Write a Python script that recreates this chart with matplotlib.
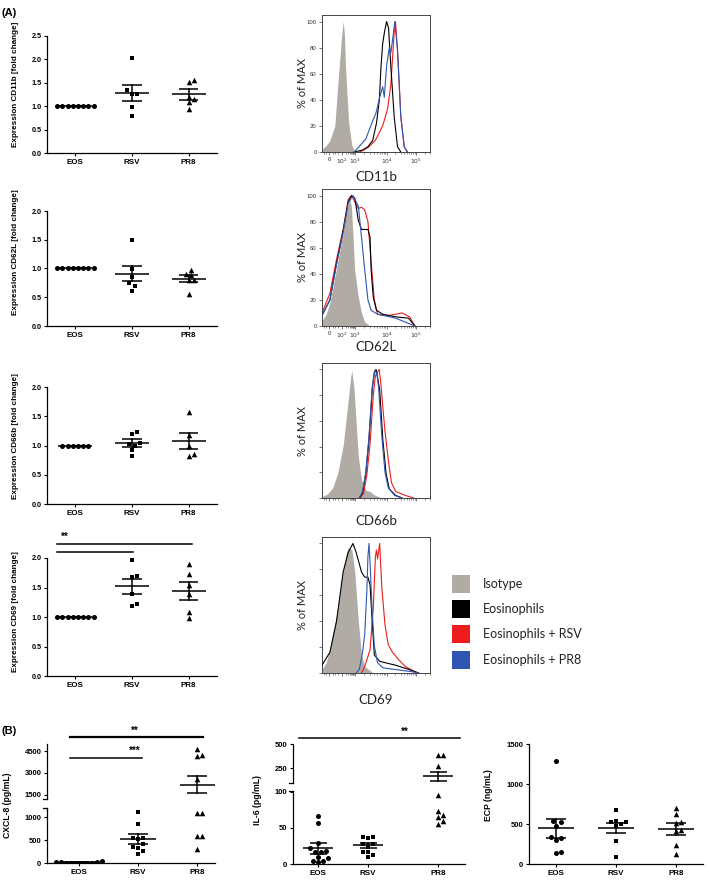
import numpy as np
import matplotlib
matplotlib.use('Agg')
import matplotlib.pyplot as plt
from matplotlib.patches import Rectangle

plt.rcParams['font.family'] = ['Liberation Sans', 'DejaVu Sans']

# ------------------------------------------------------------------ data
groups = ['EOS', 'RSV', 'PR8']

cd11b_eos = [1.0, 1.0, 1.0, 1.0, 1.0, 1.0, 1.0, 1.0]
cd11b_rsv = [2.04, 1.34, 1.25, 1.27, 0.98, 0.80]
cd11b_pr8 = [1.52, 1.55, 1.16, 1.20, 1.09, 0.93]
cd11b_mean = [1.0, 1.28, 1.25]
cd11b_sem = [0.0, 0.17, 0.11]

cd62l_eos = [1.0, 1.0, 1.0, 1.0, 1.0, 1.0, 1.0, 1.0]
cd62l_rsv = [1.50, 0.99, 0.86, 0.74, 0.69, 0.61]
cd62l_pr8 = [0.90, 0.97, 0.88, 0.80, 0.80, 0.56]
cd62l_mean = [1.0, 0.91, 0.82]
cd62l_sem = [0.0, 0.13, 0.06]

cd66b_eos = [1.0, 1.0, 1.0, 1.0, 1.0, 1.0]
cd66b_rsv = [1.19, 1.23, 1.05, 1.02, 1.00, 0.92, 0.82]
cd66b_pr8 = [1.57, 1.18, 0.99, 0.82, 0.85]
cd66b_mean = [1.0, 1.04, 1.08]
cd66b_sem = [0.0, 0.065, 0.14]

cd69_eos = [1.0, 1.0, 1.0, 1.0, 1.0, 1.0, 1.0, 1.0]
cd69_rsv = [1.96, 1.67, 1.70, 1.39, 1.18, 1.22]
cd69_pr8 = [1.90, 1.73, 1.55, 1.39, 1.09, 0.99]
cd69_mean = [1.0, 1.52, 1.44]
cd69_sem = [0.0, 0.13, 0.15]

cxcl8_eos = [50, 25, 15, 5, 2, 0, 0, 3, 10, 25]
cxcl8_rsv = [1115, 856, 540, 530, 545, 410, 360, 324, 266, 201]
cxcl8_pr8 = [4660, 4140, 4270, 2600, 1090, 1090, 590, 590, 310]
cxcl8_mean = [14, 518, 2200]
cxcl8_sem = [5, 108, 590]

il6_eos = [66, 57, 29, 22, 17, 16, 18, 10, 8, 4, 3, 4]
il6_rsv = [38, 37, 36, 28, 27, 23, 17, 16, 12, 9]
il6_pr8 = [389, 389, 274, 95, 68, 73, 65, 55, 59]
il6_mean = [22, 26, 168]
il6_sem = [7.5, 3.5, 48]

ecp_eos = [1285, 540, 520, 480, 340, 330, 300, 140, 145]
ecp_rsv = [680, 530, 520, 535, 500, 470, 290, 85]
ecp_pr8 = [700, 620, 520, 510, 430, 410, 240, 120]
ecp_mean = [445, 450, 440]
ecp_sem = [122, 62, 72]

# flow cytometry histograms (x = position along logicle axis, 0..1; y = % of max)
cd11b_iso_x = [0.0, 0.04, 0.074, 0.12, 0.15, 0.185, 0.198, 0.21, 0.22, 0.25, 0.28, 0.30, 0.32]
cd11b_iso_y = [2, 5, 9, 20, 54, 90, 100, 90, 65, 22, 5, 1, 0]
cd11b_blk_x = [0.30, 0.38, 0.43, 0.475, 0.51, 0.537, 0.552, 0.568, 0.585, 0.605, 0.623, 0.645, 0.676, 0.707, 0.738]
cd11b_blk_y = [0, 1.5, 4, 9, 22, 40, 65, 83, 92, 100, 95, 65, 27, 4, 0]
cd11b_red_x = [0.35, 0.38, 0.44, 0.50, 0.568, 0.614, 0.645, 0.676, 0.688, 0.707, 0.738, 0.77, 0.80]
cd11b_red_y = [0, 1, 4, 9, 20, 33, 52, 92, 100, 78, 27, 4, 0]
cd11b_blu_x = [0.30, 0.335, 0.41, 0.475, 0.506, 0.537, 0.568, 0.583, 0.605, 0.63, 0.645, 0.67, 0.682, 0.707, 0.738, 0.77, 0.80]
cd11b_blu_y = [0, 3, 10, 24, 30, 41, 50, 42, 66, 80, 76, 92, 100, 78, 27, 4, 0]

cd62l_iso_x = [0.0, 0.04, 0.074, 0.136, 0.198, 0.23, 0.26, 0.275, 0.29, 0.306, 0.34, 0.37, 0.40, 0.45]
cd62l_iso_y = [4, 9, 18, 44, 72, 88, 97, 92, 70, 43, 22, 10, 3, 0]
cd62l_blk_x = [0.0, 0.074, 0.136, 0.198, 0.245, 0.276, 0.307, 0.34, 0.37, 0.40, 0.43, 0.45, 0.46, 0.48, 0.51, 0.57, 0.69, 0.81, 0.87]
cd62l_blk_y = [8, 20, 48, 73, 95, 100, 98, 81, 74, 74, 74, 68, 43, 22, 12, 9, 7, 6, 0]
cd62l_red_x = [0.0, 0.074, 0.136, 0.20, 0.245, 0.276, 0.307, 0.34, 0.37, 0.40, 0.43, 0.46, 0.49, 0.52, 0.62, 0.75, 0.82, 0.87]
cd62l_red_y = [10, 25, 51, 75, 97, 100, 95, 90, 91, 89, 80, 49, 20, 9, 8, 10, 7, 0]
cd62l_blu_x = [0.0, 0.074, 0.136, 0.198, 0.245, 0.29, 0.34, 0.37, 0.40, 0.43, 0.46, 0.52, 0.69, 0.87]
cd62l_blu_y = [8, 20, 47, 72, 94, 100, 92, 68, 43, 20, 12, 9, 6, 0]

cd66b_iso_x = [0.0, 0.05, 0.10, 0.15, 0.20, 0.24, 0.27, 0.28, 0.30, 0.32, 0.34, 0.37, 0.41, 0.45, 0.50, 0.56]
cd66b_iso_y = [1, 3, 8, 20, 42, 72, 95, 99, 85, 58, 32, 14, 6, 5, 2, 0]
cd66b_blk_x = [0.35, 0.38, 0.41, 0.44, 0.47, 0.49, 0.506, 0.52, 0.54, 0.57, 0.60, 0.63, 0.69, 0.75]
cd66b_blk_y = [0, 4, 19, 45, 84, 98, 100, 94, 84, 45, 19, 7, 2, 0]
cd66b_red_x = [0.36, 0.39, 0.42, 0.45, 0.48, 0.50, 0.52, 0.535, 0.55, 0.57, 0.59, 0.62, 0.65, 0.69, 0.78, 0.86]
cd66b_red_y = [0, 4, 18, 42, 80, 95, 98, 100, 90, 70, 52, 30, 12, 5, 2, 0]
cd66b_blu_x = [0.35, 0.38, 0.41, 0.44, 0.47, 0.49, 0.50, 0.515, 0.53, 0.56, 0.59, 0.62, 0.68, 0.75]
cd66b_blu_y = [0, 5, 20, 48, 86, 97, 99, 96, 86, 48, 20, 8, 2, 0]

cd69_iso_x = [0.0, 0.04, 0.074, 0.136, 0.198, 0.23, 0.244, 0.28, 0.307, 0.34, 0.37, 0.40, 0.45, 0.48]
cd69_iso_y = [3, 8, 19, 45, 80, 93, 97, 95, 78, 40, 14, 5, 2, 0]
cd69_blk_x = [0.0, 0.074, 0.136, 0.198, 0.245, 0.29, 0.32, 0.37, 0.40, 0.43, 0.45, 0.47, 0.49, 0.54, 0.69, 0.84, 0.90]
cd69_blk_y = [6, 16, 40, 78, 93, 100, 93, 78, 74, 74, 68, 40, 14, 9, 6, 2, 0]
cd69_red_x = [0.37, 0.40, 0.45, 0.48, 0.50, 0.51, 0.52, 0.54, 0.56, 0.59, 0.62, 0.66, 0.72, 0.78, 0.87, 0.91]
cd69_red_y = [0, 5, 18, 50, 90, 95, 88, 100, 66, 37, 22, 16, 10, 5, 1, 0]
cd69_blu_x = [0.32, 0.35, 0.38, 0.40, 0.42, 0.43, 0.44, 0.45, 0.47, 0.49, 0.52, 0.57, 0.84, 0.90]
cd69_blu_y = [0, 3, 16, 30, 63, 90, 100, 85, 47, 21, 8, 4, 1, 0]

legend_labels = ['Isotype', 'Eosinophils', 'Eosinophils + RSV', 'Eosinophils + PR8']

# ------------------------------------------------------------------ helpers
W, H = 709, 880
fig = plt.figure(figsize=(W / 100, H / 100), dpi=100)

GRAY = '#b0aca5'
RED = '#ee1c1c'
BLUE = '#2f56b0'


def pax(l, t, r, b):
    return fig.add_axes([l / W, 1 - b / H, (r - l) / W, (b - t) / H])


def ftext(x, y, s, **kw):
    return fig.text(x / W, 1 - y / H, s, **kw)


def swarm(ypx, d):
    order = np.argsort(ypx)
    placed = []
    offs = np.zeros(len(ypx))
    cands = [0.0] + [s * k * d / 2 for k in range(1, 40) for s in (1, -1)]
    for i in order:
        y = ypx[i]
        for c in cands:
            if all((c - px) ** 2 + (y - py) ** 2 >= (d * 0.97) ** 2 for px, py in placed):
                offs[i] = c
                placed.append((c, y))
                break
    # a single flat row is centred about the group position
    if len(offs) and np.ptp(ypx) < d:
        offs = offs - (offs.max() + offs.min()) / 2
    return offs


MARK = ['o', 's', '^']
MSIZE = [13, 12, 16]


def style_dot_axes(ax, positions, ticks, fmt, show_bottom=True, fs=5.2):
    for s in ['top', 'right']:
        ax.spines[s].set_visible(False)
    ax.spines['left'].set_linewidth(0.9)
    ax.spines['bottom'].set_linewidth(0.9)
    ax.set_yticks(ticks)
    ax.set_yticklabels([fmt(t) for t in ticks], fontsize=fs, fontweight='bold')
    ax.tick_params(axis='y', length=2.5, width=0.8, pad=1.5)
    if show_bottom:
        ax.set_xticks(positions)
        ax.set_xticklabels(groups, fontsize=5.8, fontweight='bold')
        ax.tick_params(axis='x', length=2.5, width=0.8, pad=1.5)
    else:
        ax.spines['bottom'].set_visible(False)
        ax.set_xticks([])


def draw_groups(axes, ypix_fn, positions, datasets, means, sems, d=5.2):
    ax0 = axes[0]
    xpx = ax0.transData.transform((1, 0))[0] - ax0.transData.transform((0, 0))[0]
    for i, vals in enumerate(datasets):
        ypx = [ypix_fn(v) for v in vals]
        offs = swarm(ypx, d)
        xs = np.array([positions[i] + o / xpx for o in offs])
        vv = np.array(vals, dtype=float)
        m, s = means[i], sems[i]
        p = positions[i]
        for ax in axes:
            lo, hi = ax.get_ylim()
            mask = (vv >= lo) & (vv <= hi)
            ax.scatter(xs[mask], vv[mask], marker=MARK[i], s=MSIZE[i], c='black', linewidths=0, zorder=3)
            ax.plot([p - 0.3, p + 0.3], [m, m], color='black', lw=1.1, zorder=4, solid_capstyle='butt')
            ax.plot([p - 0.17, p + 0.17], [m + s, m + s], color='black', lw=1.1, zorder=4, solid_capstyle='butt')
            ax.plot([p - 0.17, p + 0.17], [m - s, m - s], color='black', lw=1.1, zorder=4, solid_capstyle='butt')
            ax.plot([p, p], [m - s, m + s], color='black', lw=1.1, zorder=4)


def one_fmt(t):
    return f'{t:.1f}'


def int_fmt(t):
    return f'{int(t)}'


# ------------------------------------------------------------------ panel A scatter
scatter_specs = [
    ((47, 36, 217, 153), 2.5, [0, 0.5, 1.0, 1.5, 2.0, 2.5], (cd11b_eos, cd11b_rsv, cd11b_pr8), cd11b_mean, cd11b_sem,
     'Expression CD11b [fold change]', 84),
    ((47, 211, 217, 326), 2.0, [0, 0.5, 1.0, 1.5, 2.0], (cd62l_eos, cd62l_rsv, cd62l_pr8), cd62l_mean, cd62l_sem,
     'Expression CD62L [fold change]', 252),
    ((47, 387, 217, 504), 2.0, [0, 0.5, 1.0, 1.5, 2.0], (cd66b_eos, cd66b_rsv, cd66b_pr8), cd66b_mean, cd66b_sem,
     'Expression CD66b [fold change]', 436),
    ((47, 558, 217, 676), 2.0, [0, 0.5, 1.0, 1.5, 2.0], (cd69_eos, cd69_rsv, cd69_pr8), cd69_mean, cd69_sem,
     'Expression CD69 [fold change]', 612),
]
posA = [0, 1, 2]
axA = []
for box, ytop, ticks, data, means, sems, lab, ly in scatter_specs:
    ax = pax(*box)
    ax.set_xlim(-0.5, 2.5)
    ax.set_ylim(0, ytop)
    style_dot_axes(ax, posA, ticks, one_fmt)
    draw_groups([ax], lambda v, a=ax: a.transData.transform((0, v))[1], posA, data, means, sems)
    ftext(16, ly, lab, rotation=90, ha='center', va='center', fontsize=5.9, fontweight='bold')
    axA.append(ax)

# significance for CD69
ax = axA[3]
ax.plot([-0.32, 2.06], [2.24, 2.24], color='black', lw=1.1, clip_on=False)
ax.plot([-0.32, 1.02], [2.10, 2.10], color='black', lw=1.1, clip_on=False)
ax.text(-0.18, 2.36, '**', fontsize=7, fontweight='bold', ha='center', va='center')

ftext(2, 13, '(A)', fontsize=8, fontweight='bold', ha='left', va='center')
ftext(2, 731, '(B)', fontsize=8, fontweight='bold', ha='left', va='center')

# ------------------------------------------------------------------ histograms
MAJ = [0.065, 0.185, 0.306, 0.605, 0.88]
MAJ_LAB = ['0', '$10^2$', '$10^3$', '$10^4$', '$10^5$']
minor = [0.015, 0.035, 0.10, 0.125, 0.15]
for a, b in [(0.185, 0.306), (0.306, 0.605), (0.605, 0.88)]:
    minor += [a + (b - a) * np.log10(k) for k in range(2, 10)]
minor += [0.88 + 0.275 * np.log10(k) for k in range(2, 4)]

hist_specs = [
    ((322, 15, 430, 152), 'CD11b', 177, True,
     (cd11b_iso_x, cd11b_iso_y), (cd11b_blk_x, cd11b_blk_y), (cd11b_red_x, cd11b_red_y), (cd11b_blu_x, cd11b_blu_y)),
    ((322, 189, 430, 326), 'CD62L', 347, True,
     (cd62l_iso_x, cd62l_iso_y), (cd62l_blk_x, cd62l_blk_y), (cd62l_red_x, cd62l_red_y), (cd62l_blu_x, cd62l_blu_y)),
    ((322, 363, 430, 498), 'CD66b', 521, False,
     (cd66b_iso_x, cd66b_iso_y), (cd66b_blk_x, cd66b_blk_y), (cd66b_red_x, cd66b_red_y), (cd66b_blu_x, cd66b_blu_y)),
    ((322, 537, 430, 673), 'CD69', 700, False,
     (cd69_iso_x, cd69_iso_y), (cd69_blk_x, cd69_blk_y), (cd69_red_x, cd69_red_y), (cd69_blu_x, cd69_blu_y)),
]
for box, lab, ly, labels, iso, blk, red, blu in hist_specs:
    ax = pax(*box)
    ax.set_xlim(0, 1)
    ax.set_ylim(0, 105)
    ax.fill_between(iso[0], iso[1], 0, color=GRAY, lw=0, zorder=1)
    ax.plot(blk[0], blk[1], color='black', lw=0.8, zorder=3)
    ax.plot(red[0], red[1], color=RED, lw=0.8, zorder=2)
    ax.plot(blu[0], blu[1], color=BLUE, lw=0.8, zorder=4)
    for s in ax.spines.values():
        s.set_linewidth(0.7)
        s.set_color('#444444')
    ax.set_xticks(MAJ)
    ax.set_xticks(minor, minor=True)
    ax.set_yticks([0, 20, 40, 60, 80, 100])
    ax.tick_params(axis='both', which='major', length=2.2, width=0.5, colors='#444444', pad=1.5, labelsize=4.3)
    ax.tick_params(axis='both', which='minor', length=1.2, width=0.4, colors='#444444')
    if labels:
        ax.set_xticklabels(MAJ_LAB, fontsize=4.3, color='#333333')
        ax.set_yticklabels(['0', '20', '40', '60', '80', '100'], fontsize=4.3, color='#333333')
    else:
        ax.set_xticklabels([])
        ax.set_yticklabels([])
    cy = (box[1] + box[3]) / 2
    ftext(303, cy, '% of MAX', rotation=90, ha='center', va='center', fontsize=8, family=['Lato', 'DejaVu Sans'],
          color='#222222')
    ftext(376, ly, lab, ha='center', va='center', fontsize=9.5, family=['Lato', 'DejaVu Sans'], color='#222222')

# legend
leg_colors = [GRAY, 'black', RED, BLUE]
for i, (lab, col) in enumerate(zip(legend_labels, leg_colors)):
    yc = [584, 609, 634, 660][i]
    fig.add_artist(Rectangle((452 / W, 1 - (yc + 9) / H), 18 / W, 18 / H, transform=fig.transFigure,
                             facecolor=col, edgecolor='none'))
    ftext(483, yc, lab, ha='left', va='center', fontsize=9, family=['Lato', 'DejaVu Sans'], color='#222222')

# ------------------------------------------------------------------ panel B
# CXCL-8 (broken axis)
posB1 = [0, 1, 2]
cx_lo = pax(47, 808, 215, 863)
cx_hi = pax(47, 744, 215, 799)
for a in (cx_lo, cx_hi):
    a.set_xlim(-0.54, 2.3)
cx_lo.set_ylim(0, 1200)
cx_hi.set_ylim(1200, 5000)
style_dot_axes(cx_lo, posB1, [0, 500, 1000], int_fmt, fs=5.5)
style_dot_axes(cx_hi, posB1, [1500, 3000, 4500], int_fmt, show_bottom=False, fs=5.5)


def cx_pix(v):
    a = cx_hi if v > 1200 else cx_lo
    return a.transData.transform((0, v))[1]


draw_groups([cx_lo, cx_hi], cx_pix, posB1, (cxcl8_eos, cxcl8_rsv, cxcl8_pr8), cxcl8_mean, cxcl8_sem)
for a, yy in ((cx_lo, 1), (cx_hi, 0)):
    a.plot([-4 / 168, 0], [yy, yy], transform=a.transAxes, color='black', lw=0.9, clip_on=False)
cx_hi.plot([-0.15, 2.1], [5500, 5500], color='black', lw=1.6, clip_on=False)
cx_hi.text(0.95, 5880, '**', fontsize=7, fontweight='bold', ha='center', va='center')
cx_hi.plot([-0.15, 1.07], [4020, 4020], color='black', lw=1.1, clip_on=False)
cx_hi.text(0.95, 4550, '***', fontsize=7, fontweight='bold', ha='center', va='center')
ftext(8, 805, 'CXCL-8 (pg/mL)', rotation=90, ha='center', va='center', fontsize=6.2, fontweight='bold')

# IL-6 (broken axis)
posB2 = [0, 1, 2.4]
il_lo = pax(293, 791, 465, 864)
il_hi = pax(293, 744, 465, 783)
for a in (il_lo, il_hi):
    a.set_xlim(-0.5, 2.94)
il_lo.set_ylim(0, 101)
il_hi.set_ylim(100, 500)
style_dot_axes(il_lo, posB2, [0, 50, 100], int_fmt, fs=5.5)
style_dot_axes(il_hi, posB2, [250, 500], int_fmt, show_bottom=False, fs=5.5)


def il_pix(v):
    a = il_hi if v > 101 else il_lo
    return a.transData.transform((0, v))[1]


draw_groups([il_lo, il_hi], il_pix, posB2, (il6_eos, il6_rsv, il6_pr8), il6_mean, il6_sem)
for a, yy in ((il_lo, 1), (il_hi, 0)):
    a.plot([-4 / 172, 0], [yy, yy], transform=a.transAxes, color='black', lw=0.9, clip_on=False)
il_hi.plot([-0.38, 2.84], [565, 565], color='black', lw=1.1, clip_on=False)
il_hi.text(1.74, 620, '**', fontsize=7, fontweight='bold', ha='center', va='center')
ftext(257, 800, 'IL-6 (pg/mL)', rotation=90, ha='center', va='center', fontsize=6.2, fontweight='bold')

# ECP
posB3 = [0, 1, 2]
ec = pax(529, 744, 703, 864)
ec.set_xlim(-0.45, 2.45)
ec.set_ylim(0, 1500)
style_dot_axes(ec, posB3, [0, 500, 1000, 1500], int_fmt, fs=5.5)
draw_groups([ec], lambda v: ec.transData.transform((0, v))[1], posB3, (ecp_eos, ecp_rsv, ecp_pr8), ecp_mean, ecp_sem)
ftext(488, 795, 'ECP (ng/mL)', rotation=90, ha='center', va='center', fontsize=6.2, fontweight='bold')

fig.savefig('out.png', dpi=100)
